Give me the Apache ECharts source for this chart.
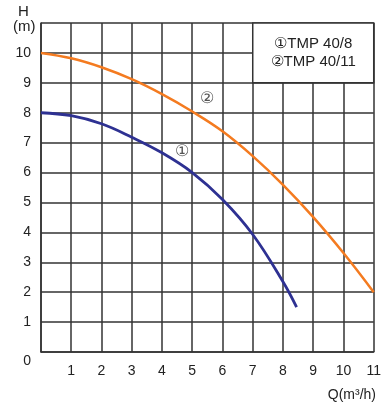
<!DOCTYPE html>
<html>
<head>
<meta charset="utf-8">
<script src="https://cdn.jsdelivr.net/npm/echarts@6/dist/echarts.min.js"></script>
<style>
html,body{margin:0;padding:0;background:#fff;}
#chart{width:384px;height:408px;}
</style>
</head>
<body>
<div id="chart"></div>
<script>
// 曲线数据 (Q, H)
var qBlue=[0,1,2,3,4,5,6,7,8,8.45];
var hBlue=[8,7.9,7.63,7.18,6.66,6.0,5.1,3.93,2.35,1.5];
var qOrange=[0,1,2,3,4,5,6,7,8,9,10,11];
var hOrange=[10,9.82,9.52,9.12,8.62,8.04,7.38,6.55,5.59,4.51,3.31,2.0];

var xTicks=[1,2,3,4,5,6,7,8,9,10,11];
var yTicks=[0,1,2,3,4,5,6,7,8,9,10];
var legendLines=['①TMP 40/8','②TMP 40/11'];
// 曲线上的编号 [Q, H]
var tagBlue=[4.65,6.68];
var tagOrange=[5.5,8.46];
// 图例框范围
var boxFrom=[7,9],boxTo=[11,11];

function pairs(xs,ys){
    var arr=[];
    for(var i=0;i<xs.length;i++){
        arr.push([xs[i],ys[i]]);
    }
    return arr;
}

var font='"Liberation Sans", Arial, sans-serif';
var gridLine={show:true,lineStyle:{color:'#333',width:1.5}};

var myChart=echarts.init(document.getElementById('chart'));

var option={
    animation:false,
    grid:{left:41,right:10,top:23,bottom:56},
    xAxis:{
        type:'value',min:0,max:11,interval:1,
        axisLine:{show:true,lineStyle:{color:'#333',width:1.5}},
        axisTick:{show:false},
        splitLine:gridLine,
        axisLabel:{
            margin:12,color:'#222',fontSize:14,fontFamily:font,
            formatter:function(v){return xTicks.indexOf(v)>-1?String(v):'';}
        }
    },
    yAxis:{
        type:'value',min:0,max:11,interval:1,
        axisLine:{show:true,lineStyle:{color:'#333',width:1.5}},
        axisTick:{show:false},
        splitLine:gridLine,
        axisLabel:{
            margin:10,color:'#222',fontSize:14,fontFamily:font,
            formatter:function(v){
                if(yTicks.indexOf(v)<0) return '';
                return v===0?'{z|0}':String(v);
            },
            rich:{z:{padding:[18,0,0,0],fontSize:14,fontFamily:font,color:'#222'}}
        }
    },
    series:[{
        name:'TMP 40/8',
        type:'line',
        smooth:0.4,
        symbol:'none',
        data:pairs(qBlue,hBlue),
        lineStyle:{color:'#2e3192',width:2.8},
        markPoint:{
            symbol:'circle',symbolSize:1,
            itemStyle:{color:'rgba(0,0,0,0)'},
            label:{show:true,position:'inside',formatter:'①',color:'#555',fontSize:16,fontFamily:'"DejaVu Serif", serif'},
            data:[{coord:tagBlue}]
        },
        z:3
    },{
        name:'TMP 40/11',
        type:'line',
        smooth:0.4,
        symbol:'none',
        data:pairs(qOrange,hOrange),
        lineStyle:{color:'#f47b20',width:2.5},
        markPoint:{
            symbol:'circle',symbolSize:1,
            itemStyle:{color:'rgba(0,0,0,0)'},
            label:{show:true,position:'inside',formatter:'②',color:'#555',fontSize:16,fontFamily:'"DejaVu Serif", serif'},
            data:[{coord:tagOrange}]
        },
        markArea:{
            silent:true,
            itemStyle:{color:'#fff',borderColor:'#333',borderWidth:1.5},
            label:{
                show:true,position:'inside',
                formatter:legendLines.join('\n'),
                color:'#222',fontSize:15,lineHeight:18,fontFamily:font
            },
            data:[[{coord:boxFrom},{coord:boxTo}]]
        },
        z:3
    }],
    graphic:[{
        type:'text',left:18,top:4,
        style:{text:'H',font:'15px '+font,fill:'#222'}
    },{
        type:'text',left:13,top:19,
        style:{text:'(m)',font:'15px '+font,fill:'#222'}
    },{
        type:'text',right:8,top:388,
        style:{text:'Q(m³/h)',font:'14px '+font,fill:'#222'}
    }]
};

myChart.setOption(option);
</script>
</body>
</html>
